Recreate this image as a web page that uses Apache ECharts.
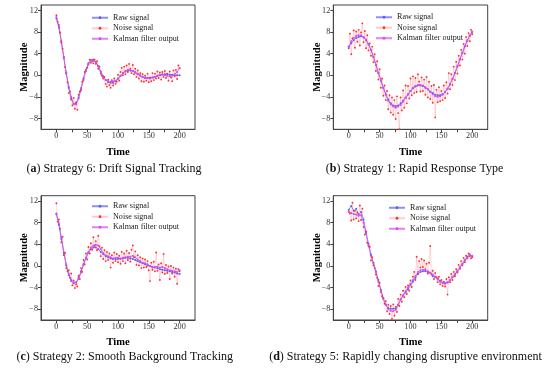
<!DOCTYPE html>
<html>
<head>
<meta charset="utf-8">
<script src="https://cdn.jsdelivr.net/npm/echarts@6/dist/echarts.min.js"></script>
<style>html,body{margin:0;padding:0;background:#fff}#c{width:550px;height:368px}</style>
</head>
<body>
<div id="c"></div>
<script>
// ---------- data ----------
const time4 = [0,4,8,12,16,20,24,28,32,36,40,44,48,52,56,60,64,68,72,76,80,84,88,92,96,100,104,108,112,116,120,124,128,132,136,140,144,148,152,156,160,164,168,172,176,180,184,188,192,196,200];
const time2 = [0,2,4,6,8,10,12,14,16,18,20,22,24,26,28,30,32,34,36,38,40,42,44,46,48,50,52,54,56,58,60,62,64,66,68,70,72,74,76,78,80,82,84,86,88,90,92,94,96,98,100,102,104,106,108,110,112,114,116,118,120,122,124,126,128,130,132,134,136,138,140,142,144,146,148,150,152,154,156,158,160,162,164,166,168,170,172,174,176,178,180,182,184,186,188,190,192,194,196,198,200];

const xTickLabels = [0,50,100,150,200];
const xTickMarks = [0,25,50,75,100,125,150,175,200];
const yTickLabels = [-8,-4,0,4,8,12];

const seriesNames = ['Raw signal','Noise signal','Kalman filter output'];

// (a) Strategy 6
const rawA = [10.5,8.8,6.2,3.2,0.3,-2.3,-4.3,-5.3,-5.2,-4.1,-2.4,-0.6,1.0,2.2,2.8,2.9,2.5,1.7,0.7,-0.2,-0.9,-1.3,-1.4,-1.4,-1.1,-0.6,-0.1,0.4,0.7,0.9,0.9,0.8,0.5,0.2,-0.1,-0.3,-0.5,-0.5,-0.5,-0.4,-0.3,-0.1,0.0,0.1,0.2,0.2,0.1,0.1,0.0,0.0,0.0];
const noiseA = [11.1,9.9,9.3,7.9,6.0,4.9,3.4,1.5,0.5,-1.3,-3.3,-3.0,-4.5,-5.6,-4.2,-6.2,-5.0,-6.4,-3.6,-3.0,-2.8,-1.2,-0.9,0.6,0.8,1.4,2.0,2.9,2.3,2.6,2.2,2.9,2.1,2.6,1.2,1.6,0.3,-0.1,-0.6,-0.3,-1.6,-2.1,-0.8,-1.8,-2.3,-0.9,-1.9,-0.6,-1.6,-1.2,0.1,-1.0,0.6,1.4,0.0,1.6,0.2,1.8,0.6,2.1,1.2,0.4,1.9,0.2,1.2,-0.3,0.9,-0.6,0.4,-1.1,0.2,-1.2,-0.1,-1.0,0.3,-1.3,-0.4,-1.1,0.4,-0.9,0.3,-0.6,0.7,-0.5,0.5,-0.8,0.6,-0.3,0.8,-0.5,0.3,-1.0,0.7,-0.4,-1.1,0.9,-0.2,1.0,-0.7,1.8,1.3];
const kalmanA = [10.8,9.0,6.4,3.4,0.5,-2.1,-4.0,-5.3,-5.4,-4.3,-2.6,-0.8,0.9,2.1,2.7,2.7,2.4,1.6,0.5,-0.4,-0.9,-1.1,-1.2,-1.1,-1.0,-0.7,-0.2,0.4,0.8,1.0,0.9,0.8,0.6,0.3,0.0,-0.3,-0.5,-0.5,-0.6,-0.4,-0.3,-0.1,0.1,0.2,0.0,-0.1,-0.2,-0.1,0.2,0.6,1.3];

// (b) Strategy 1
const rawB = [5.3,5.9,6.5,6.9,7.1,7.2,7.0,6.5,5.7,4.7,3.4,1.9,0.4,-1.0,-2.3,-3.5,-4.5,-5.2,-5.6,-5.7,-5.6,-5.2,-4.7,-4.1,-3.5,-2.9,-2.4,-2.1,-1.9,-1.9,-2.0,-2.3,-2.6,-3.0,-3.3,-3.6,-3.7,-3.7,-3.5,-3.1,-2.5,-1.7,-0.7,0.4,1.6,2.9,4.1,5.3,6.4,7.3,8.0];
const noiseB = [5.0,7.7,3.9,6.8,8.3,5.1,8.1,6.2,8.4,5.5,7.9,9.6,6.1,8.2,5.0,7.4,4.6,5.9,3.6,5.3,2.4,3.9,0.8,2.6,-0.8,1.1,-2.3,-0.6,-3.8,-1.9,-4.6,-2.9,-6.3,-3.7,-6.9,-4.1,-7.3,-4.6,-8.1,-3.9,-7.0,-10.0,-4.1,-6.5,-2.8,-6.0,-1.9,-5.2,-2.0,-4.3,-0.6,-3.7,-0.2,-3.3,-0.5,-3.1,0.2,-1.2,-3.0,-0.4,-2.9,-0.8,-3.6,-0.3,-4.1,-1.2,-4.4,-2.0,-5.1,-1.8,-7.8,-2.7,-5.0,-2.2,-4.8,-2.9,-4.6,-1.9,-4.2,-1.3,-3.4,0.4,-2.6,0.2,-1.8,1.6,-0.9,2.5,0.3,3.6,1.8,4.7,2.9,5.8,4.0,7.1,5.4,7.8,6.3,8.4,7.6];
const kalmanB = [5.2,6.3,6.9,7.3,7.4,7.4,7.1,6.6,5.8,4.7,3.4,2.0,0.5,-0.9,-2.4,-3.6,-4.7,-5.4,-5.8,-6.0,-5.8,-5.5,-4.9,-4.2,-3.6,-2.9,-2.3,-2.0,-1.8,-1.8,-1.9,-2.2,-2.6,-3.1,-3.5,-3.9,-4.0,-3.9,-3.6,-3.1,-2.5,-1.6,-0.7,0.4,1.7,3.0,4.2,5.4,6.5,7.4,8.1];

// (c) Strategy 2
const rawC = [9.7,7.6,5.0,2.4,0.1,-1.7,-2.8,-3.2,-3.0,-2.2,-1.0,0.3,1.5,2.5,3.1,3.4,3.4,3.1,2.6,2.2,1.8,1.6,1.4,1.3,1.3,1.3,1.4,1.4,1.5,1.5,1.4,1.3,1.1,0.9,0.7,0.5,0.3,0.1,0.0,-0.2,-0.3,-0.4,-0.6,-0.7,-0.8,-0.9,-1.0,-1.1,-1.2,-1.4,-1.5];
const noiseC = [11.6,8.2,8.6,6.9,4.4,5.4,2.0,2.4,-0.4,-1.0,-0.8,-2.2,-1.4,-3.6,-2.7,-4.1,-3.4,-3.8,-1.8,-2.4,-0.4,-1.1,1.1,0.3,2.3,1.2,3.5,2.3,4.2,3.0,5.3,3.7,4.6,2.9,5.6,3.6,1.8,3.4,1.3,2.9,0.9,2.6,1.1,2.3,-0.3,2.0,0.6,2.5,0.9,2.2,0.7,1.9,0.4,2.6,0.9,2.3,0.5,2.8,1.1,2.4,0.8,3.0,3.8,1.6,2.7,0.2,2.0,0.1,1.6,-0.4,1.4,-0.3,1.2,-0.2,0.9,-0.8,-2.8,0.6,-0.7,0.8,-1.0,2.5,-0.9,0.3,-2.6,0.5,-1.2,2.2,-1.5,0.2,-1.3,-0.1,-2.4,0.0,-1.4,-0.3,-2.0,-0.5,-3.3,-0.6,-1.0];
const kalmanC = [9.5,7.9,5.3,2.6,0.3,-1.4,-2.5,-3.0,-3.1,-2.4,-1.2,0.2,1.5,2.6,3.4,3.8,3.9,3.8,3.1,2.4,2.0,1.8,1.6,1.4,1.5,1.5,1.3,1.5,1.6,1.7,1.7,1.9,1.6,1.2,0.9,0.6,0.5,0.3,0.0,-0.3,-0.2,-0.1,-0.3,-0.2,-0.4,-0.6,-0.8,-0.9,-1.0,-1.1,-0.8];

// (d) Strategy 5
const rawD = [10.4,11.1,10.2,10.6,9.5,10.0,8.6,6.2,4.1,2.1,0.6,-1.0,-2.6,-4.4,-6.0,-7.2,-7.8,-7.9,-7.9,-7.9,-7.2,-6.2,-5.5,-4.9,-4.3,-3.5,-2.9,-2.2,-1.5,-1.1,-1.0,-1.0,-1.1,-1.3,-1.9,-2.0,-2.3,-2.8,-3.1,-3.2,-3.0,-2.6,-2.1,-1.6,-1.0,-0.3,0.4,1.1,1.7,2.1,1.8];
const noiseD = [10.1,9.7,8.4,11.7,8.6,10.2,8.8,9.9,8.3,11.2,8.5,10.6,7.2,5.8,6.4,4.3,3.7,3.5,1.0,1.6,0.1,-0.4,-1.6,-2.2,-3.7,-3.1,-4.8,-5.6,-5.9,-7.0,-6.5,-8.4,-7.2,-8.9,-7.4,-9.8,-7.1,-9.2,-7.6,-8.5,-6.1,-7.4,-5.3,-6.6,-4.6,-5.8,-3.9,-5.2,-3.6,-4.6,-2.7,-3.9,-2.0,-1.1,-2.6,1.7,-1.5,0.9,-0.3,1.3,-0.2,1.0,-0.6,0.4,-1.4,0.6,3.7,-1.6,-0.9,-2.4,-1.3,-2.1,-3.0,-2.0,-3.4,-2.6,-3.7,-2.9,-3.8,-2.4,-5.3,-2.1,-3.0,-1.5,-2.6,-1.1,-1.9,-0.6,-1.2,0.2,-0.5,0.9,0.1,1.5,0.7,1.9,1.4,2.3,1.8,1.4,1.6];
const kalmanD = [10.0,9.8,9.6,9.5,9.3,9.4,8.0,5.9,3.9,1.9,0.4,-1.2,-2.9,-4.6,-6.1,-7.2,-8.0,-8.3,-8.4,-8.1,-7.2,-6.2,-5.4,-4.7,-4.0,-3.3,-2.6,-1.9,-1.1,-0.8,-0.7,-0.8,-1.0,-1.2,-1.6,-2.0,-2.5,-2.9,-3.1,-3.3,-3.1,-2.6,-2.0,-1.5,-0.9,-0.3,0.3,1.0,1.5,1.9,1.9];

const panelCaptions = [
  ['a','Strategy 6: Drift Signal Tracking'],
  ['b','Strategy 1: Rapid Response Type'],
  ['c','Strategy 2: Smooth Background Tracking'],
  ['d','Strategy 5: Rapidly changing disruptive environment']
];
const panelData = [[rawA,noiseA,kalmanA],[rawB,noiseB,kalmanB],[rawC,noiseC,kalmanC],[rawD,noiseD,kalmanD]];

// ---------- layout ----------
const grids = [
  {left:41, top:5, width:154, height:124.3},
  {left:333.3, top:5, width:154.4, height:124.3},
  {left:41, top:195.7, width:154, height:124.3},
  {left:333.3, top:195.7, width:154.4, height:124.3}
];
const legendPos = [
  {left:91, top:13},
  {left:375, top:12.5},
  {left:91, top:201.5},
  {left:388, top:203}
];
const captionPos = [[114,169],[414.5,169],[124.7,357],[405.5,357]];

const SERIF = 'Liberation Serif';
const COL_RAW = '#5b62f5';
const COL_NOISE = '#ff3030';
const COL_NOISE_LINE = 'rgba(255,90,90,0.3)';
const COL_KAL = '#d64cf5';

const pair = (t, v) => t.map((x, i) => [x, v[i]]);
const minus = v => String(v).replace('-', '\u2212');

const option = {
  animation: false,
  backgroundColor: '#fff',
  grid: grids.map(g => Object.assign({show:true, borderColor:'#444', borderWidth:1, backgroundColor:'transparent', containLabel:false}, g)),
  xAxis: grids.map((g, i) => ({
    type:'value', gridIndex:i, min:-25, max:225,
    name:'Time', nameLocation:'middle', nameGap:17,
    nameTextStyle:{fontFamily:SERIF, fontWeight:'bold', fontSize:10.5, color:'#000'},
    axisLine:{show:true, onZero:false, lineStyle:{color:'#444', width:1}},
    axisTick:{show:true, length:3, customValues:xTickMarks, lineStyle:{color:'#444'}},
    axisLabel:{customValues:xTickLabels, fontFamily:SERIF, fontSize:8.2, color:'#333', margin:3, formatter:minus},
    splitLine:{show:false}
  })),
  yAxis: grids.map((g, i) => ({
    type:'value', gridIndex:i, min:-10, max:13,
    name:'Magnitude', nameLocation:'middle', nameGap:11, nameRotate:90, nameMoveOverlap:false,
    nameTextStyle:{fontFamily:SERIF, fontWeight:'bold', fontSize:10.5, color:'#000'},
    axisLine:{show:true, onZero:false, lineStyle:{color:'#444', width:1}},
    axisTick:{show:true, length:3, customValues:yTickLabels, lineStyle:{color:'#444'}},
    axisLabel:{customValues:yTickLabels, fontFamily:SERIF, fontSize:8.2, color:'#333', margin:3, formatter:minus},
    splitLine:{show:false}
  })),
  legend: legendPos.map(p => ({
    left:p.left, top:p.top, orient:'vertical', padding:0, itemGap:1,
    itemWidth:16, itemHeight:3.5,
    data: seriesNames,
    textStyle:{fontFamily:SERIF, fontSize:8.1, color:'#222', lineHeight:9.5},
    selectedMode:false
  })),
  series: [],
  graphic: captionPos.map((p, i) => ({
    type:'text', x:p[0], y:p[1],
    style:{
      text:'({b|' + panelCaptions[i][0] + '}) ' + panelCaptions[i][1],
      fontFamily:SERIF, fontSize:12, fill:'#111',
      align:'center', verticalAlign:'middle',
      rich:{b:{fontFamily:SERIF, fontSize:12, fontWeight:'bold', fill:'#111'}}
    }
  }))
};

panelData.forEach((d, i) => {
  option.series.push({
    name:seriesNames[0], type:'line', xAxisIndex:i, yAxisIndex:i,
    data:pair(time4, d[0]), symbol:'circle', symbolSize:2, showAllSymbol:true,
    itemStyle:{color:COL_RAW}, lineStyle:{color:COL_RAW, width:1, opacity:0.7}
  });
  option.series.push({
    name:seriesNames[1], type:'line', xAxisIndex:i, yAxisIndex:i,
    data:pair(time2, d[1]), symbol:'circle', symbolSize:1.9, showAllSymbol:true,
    itemStyle:{color:COL_NOISE}, lineStyle:{color:COL_NOISE_LINE, width:0.8}
  });
  option.series.push({
    name:seriesNames[2], type:'line', xAxisIndex:i, yAxisIndex:i,
    data:pair(time4, d[2]), symbol:'circle', symbolSize:2, showAllSymbol:true,
    itemStyle:{color:COL_KAL}, lineStyle:{color:COL_KAL, width:1, opacity:0.7}
  });
});

const chart = echarts.init(document.getElementById('c'), null, {renderer:'canvas'});
chart.setOption(option);
</script>
</body>
</html>
